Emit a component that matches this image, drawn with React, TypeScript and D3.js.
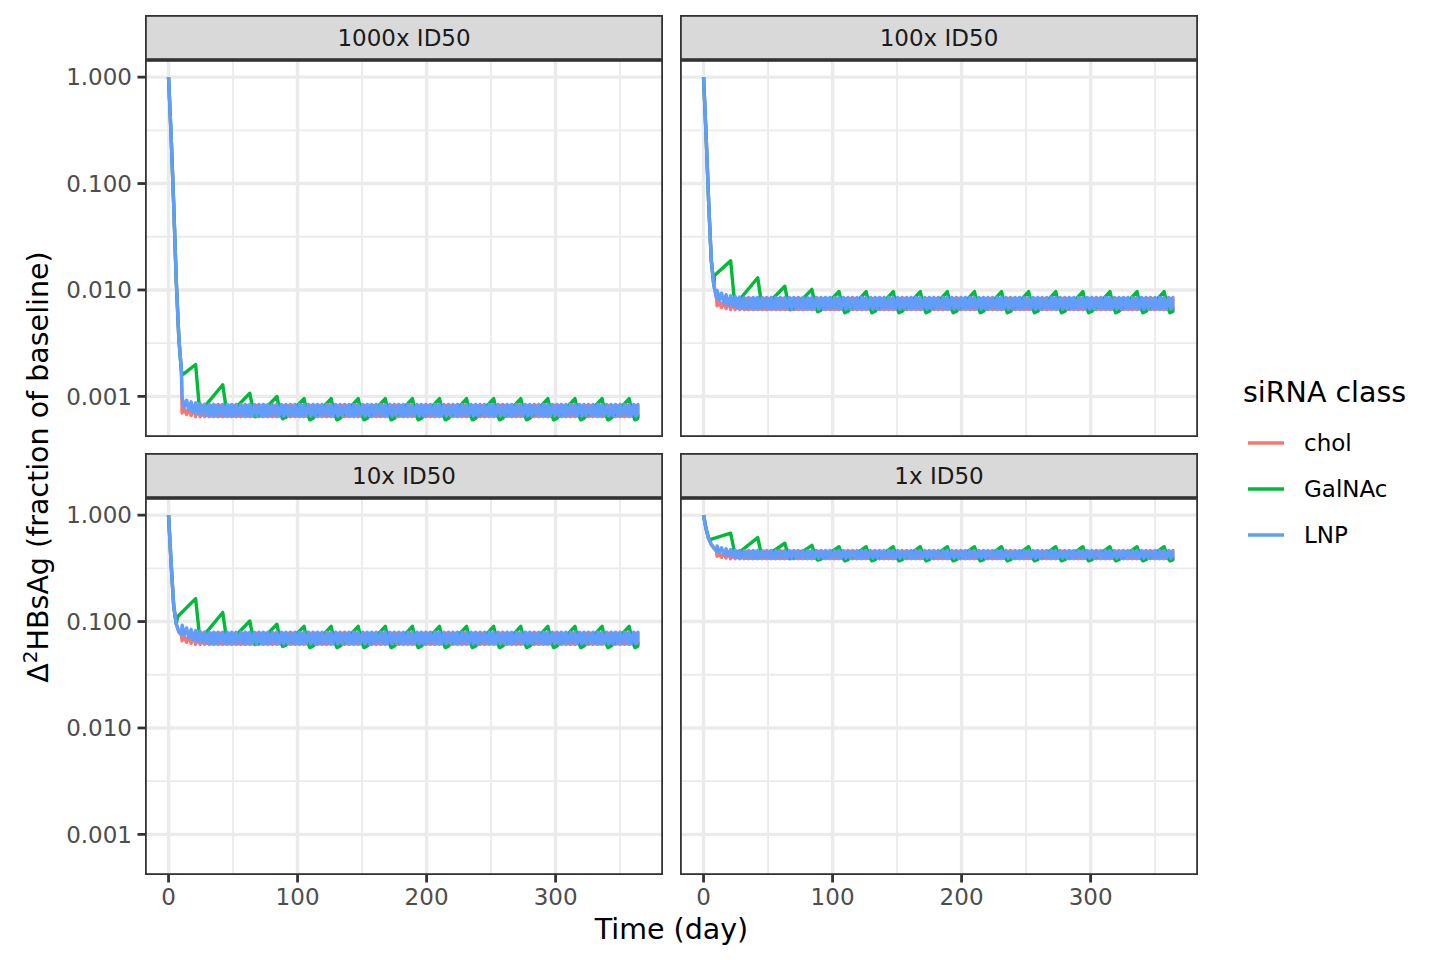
import React from "react";
import * as d3 from "d3";

const panelNames = ["1000x ID50", "100x ID50", "10x ID50", "1x ID50"];
const seriesNames = ["chol", "GalNAc", "LNP"];
const seriesColors = ["#F8766D", "#00BA38", "#619CFF"];
const xTicks = [0, 100, 200, 300];
const xMinor = [50, 150, 250, 350];
const yTicks = [1, 0.1, 0.01, 0.001];
const yMinor = [10 ** -0.5, 10 ** -1.5, 10 ** -2.5];
const lastDay = 365;

// steady level (middle of the LNP band)
const panelLevel = [0.00074, 0.0075, 0.07, 0.427];
// swings look narrower in the 1x panel
const panelSwing = [1, 1, 1, 0.66];

// initial drop after the first dose, same for all classes
const declineDays = [0, 2, 4, 6, 8, 10];
const declineValues = [
  [1, 0.28, 0.063, 0.012, 0.0035, 0.0017],
  [1, 0.28, 0.065, 0.019, 0.011, 0.0085],
  [1, 0.35, 0.14, 0.095, 0.08, 0.075],
  [1, 0.74, 0.6, 0.53, 0.49, 0.46],
];

// GalNAc, every three weeks (378 = next dose, past the end of the plot)
const galnacDoseDays = [0, 21, 42, 63, 84, 105, 126, 147, 168, 189, 210, 231, 252, 273, 294, 315, 336, 357, 378];
const galnacFirstLowDay = [11.5, 8.5, 7, 5];
const galnacFirstLow = [0.34, 0.26, 0.2, 0.14]; // decades above level
const galnacFirstPeak = [0.43, 0.4, 0.37, 0.2];
const galnacPeaks = [0.24, 0.16, 0.13, 0.11]; // before doses from day 42 on, last one repeats
const galnacTroughs = [0.02, -0.03, -0.06, -0.08, -0.09]; // after doses from day 21 on
// shape of the dip after each dose: days after dose, decades above the trough
const galnacBottomDays = [2.5, 4.5, 7];
const galnacBottomLift = [0.06, 0, 0.015];

// LNP and chol, twice a week (earlier doses are lost in the drop)
const fastDoseDays = d3.range(10.5, 380, 3.5);
const fastHalf = 1.75;
const lnpPeaks = [0.12, 0.095, 0.08, 0.07, 0.063, 0.058, 0.055];
const lnpTroughs = [0.03, 0.0, -0.02, -0.035, -0.045, -0.05, -0.055];
const cholPeaks = [0.01, 0.025, 0.035, 0.045];
const cholTroughs = [-0.025, -0.04, -0.05, -0.06];

type Pt = [number, number];

const pick = (arr: number[], i: number) => arr[Math.min(i, arr.length - 1)];

function panelSeries(p: number): Pt[][] {
  const scaled = (dev: number) => panelLevel[p] * 10 ** (dev * panelSwing[p]);
  const abs = (dev: number) => panelLevel[p] * 10 ** dev;
  const decline: Pt[] = declineDays.map((d, i) => [d, declineValues[p][i]]);

  const chol: Pt[] = [...decline];
  fastDoseDays.forEach((d, k) => {
    chol.push([d, scaled(pick(cholTroughs, k))]);
    chol.push([d + fastHalf, scaled(pick(cholPeaks, k))]);
  });

  const lnp: Pt[] = [...decline];
  fastDoseDays.forEach((d, k) => {
    lnp.push([d, scaled(pick(lnpPeaks, k))]);
    lnp.push([d + fastHalf, scaled(pick(lnpTroughs, k))]);
  });

  const galnac: Pt[] = decline.filter((pt) => pt[0] < galnacFirstLowDay[p]);
  galnac.push([galnacFirstLowDay[p], abs(galnacFirstLow[p])]);
  galnac.push([galnacDoseDays[1], abs(galnacFirstPeak[p])]);
  for (let k = 1; k < galnacDoseDays.length - 1; k++) {
    const d = galnacDoseDays[k];
    const tr = pick(galnacTroughs, k - 1);
    galnacBottomDays.forEach((off, j) => galnac.push([d + off, scaled(tr + galnacBottomLift[j])]));
    galnac.push([galnacDoseDays[k + 1], scaled(pick(galnacPeaks, k - 1))]);
  }
  return [chol, galnac, lnp];
}

const allSeries = panelNames.map((_, p) => panelSeries(p));

// layout
const colX = [145, 680];
const rowY = [15, 453];
const panelW = 518;
const stripH = 45;
const panelH = 377;
const font = "DejaVu Sans";
const smallSize = 23;
const titleSize = 28.5;

const xScale = d3
  .scaleLinear()
  .domain([0 - lastDay * 0.05, lastDay * 1.05])
  .range([0, panelW]);

const logs = allSeries.flat(2).map((pt) => Math.log10(pt[1]));
const lMin = d3.min(logs) as number;
const lMax = d3.max(logs) as number;
const lPad = (lMax - lMin) * 0.05;
const yScale = d3
  .scaleLog()
  .domain([10 ** (lMin - lPad), 10 ** (lMax + lPad)])
  .range([panelH, 0]);

const fmtY = d3.format(".3f");

const lineGen = d3
  .line<Pt>()
  .x((d) => xScale(d[0]))
  .y((d) => yScale(d[1]));

const Panel: React.FC<{ p: number }> = ({ p }) => {
  const col = p % 2;
  const row = Math.floor(p / 2);
  const x0 = colX[col];
  const top = rowY[row];
  const py = top + stripH;
  return (
    <g>
      <defs>
        <clipPath id={`clip-${p}`}>
          <rect x={0} y={0} width={xScale(lastDay)} height={panelH} />
        </clipPath>
      </defs>
      {/* strip */}
      <rect x={x0 + 0.9} y={top + 0.9} width={panelW - 1.8} height={stripH - 1.8} fill="#D9D9D9" stroke="#333333" strokeWidth={1.8} />
      <text x={x0 + panelW / 2} y={top + stripH / 2} dy="0.36em" textAnchor="middle" fontFamily={font} fontSize={smallSize} fill="#1A1A1A">
        {panelNames[p]}
      </text>
      <g transform={`translate(${x0},${py})`}>
        <rect x={0} y={0} width={panelW} height={panelH} fill="white" />
        {yMinor.map((v) => (
          <line key={`ym${v}`} x1={0} x2={panelW} y1={yScale(v)} y2={yScale(v)} stroke="#EBEBEB" strokeWidth={1.8} />
        ))}
        {xMinor.map((v) => (
          <line key={`xm${v}`} x1={xScale(v)} x2={xScale(v)} y1={0} y2={panelH} stroke="#EBEBEB" strokeWidth={1.8} />
        ))}
        {yTicks.map((v) => (
          <line key={`y${v}`} x1={0} x2={panelW} y1={yScale(v)} y2={yScale(v)} stroke="#EBEBEB" strokeWidth={3.4} />
        ))}
        {xTicks.map((v) => (
          <line key={`x${v}`} x1={xScale(v)} x2={xScale(v)} y1={0} y2={panelH} stroke="#EBEBEB" strokeWidth={3.4} />
        ))}
        <g clipPath={`url(#clip-${p})`}>
          {allSeries[p].map((pts, s) => (
            <path key={seriesNames[s]} d={lineGen(pts) || ""} fill="none" stroke={seriesColors[s]} strokeWidth={3.4} strokeLinejoin="round" />
          ))}
        </g>
        <rect x={0.9} y={0.9} width={panelW - 1.8} height={panelH - 1.8} fill="none" stroke="#333333" strokeWidth={1.8} />
        {col === 0 &&
          yTicks.map((v) => (
            <g key={`yt${v}`} transform={`translate(0,${yScale(v)})`}>
              <line x1={-7.5} x2={0} stroke="#333333" strokeWidth={2.8} />
              <text x={-13} dy="0.36em" textAnchor="end" fontFamily={font} fontSize={smallSize} fill="#4D4D4D">
                {fmtY(v)}
              </text>
            </g>
          ))}
        {row === 1 &&
          xTicks.map((v) => (
            <g key={`xt${v}`} transform={`translate(${xScale(v)},${panelH})`}>
              <line y1={0} y2={7.5} stroke="#333333" strokeWidth={2.8} />
              <text y={30} textAnchor="middle" fontFamily={font} fontSize={smallSize} fill="#4D4D4D">
                {v}
              </text>
            </g>
          ))}
      </g>
    </g>
  );
};

const App: React.FC = () => {
  const plotCenterX = (colX[0] + colX[1] + panelW) / 2;
  return (
    <svg width={1440} height={960} viewBox="0 0 1440 960" style={{ position: "absolute", left: 0, top: 0, background: "white" }}>
      <rect width={1440} height={960} fill="white" />
      {panelNames.map((_, p) => (
        <Panel key={p} p={p} />
      ))}
      <text x={plotCenterX} y={939} textAnchor="middle" fontFamily={font} fontSize={titleSize} fill="black">
        Time (day)
      </text>
      <text transform="translate(38,467) rotate(-90)" textAnchor="middle" fontFamily={font} fontSize={titleSize} fill="black">
        <tspan dy="0.36em">Δ</tspan>
        <tspan dy="-11" fontSize={20}>2</tspan>
        <tspan dy="11">HBsAg (fraction of baseline)</tspan>
      </text>
      {/* legend */}
      <text x={1243} y={392} dy="0.36em" fontFamily={font} fontSize={titleSize} fill="black">
        siRNA class
      </text>
      {seriesNames.map((name, i) => (
        <g key={name} transform={`translate(1248,${443 + i * 46})`}>
          <line x1={0} x2={36} y1={0} y2={0} stroke={seriesColors[i]} strokeWidth={3.4} />
          <text x={56} dy="0.36em" fontFamily={font} fontSize={smallSize} fill="black">
            {name}
          </text>
        </g>
      ))}
    </svg>
  );
};

export default App;
